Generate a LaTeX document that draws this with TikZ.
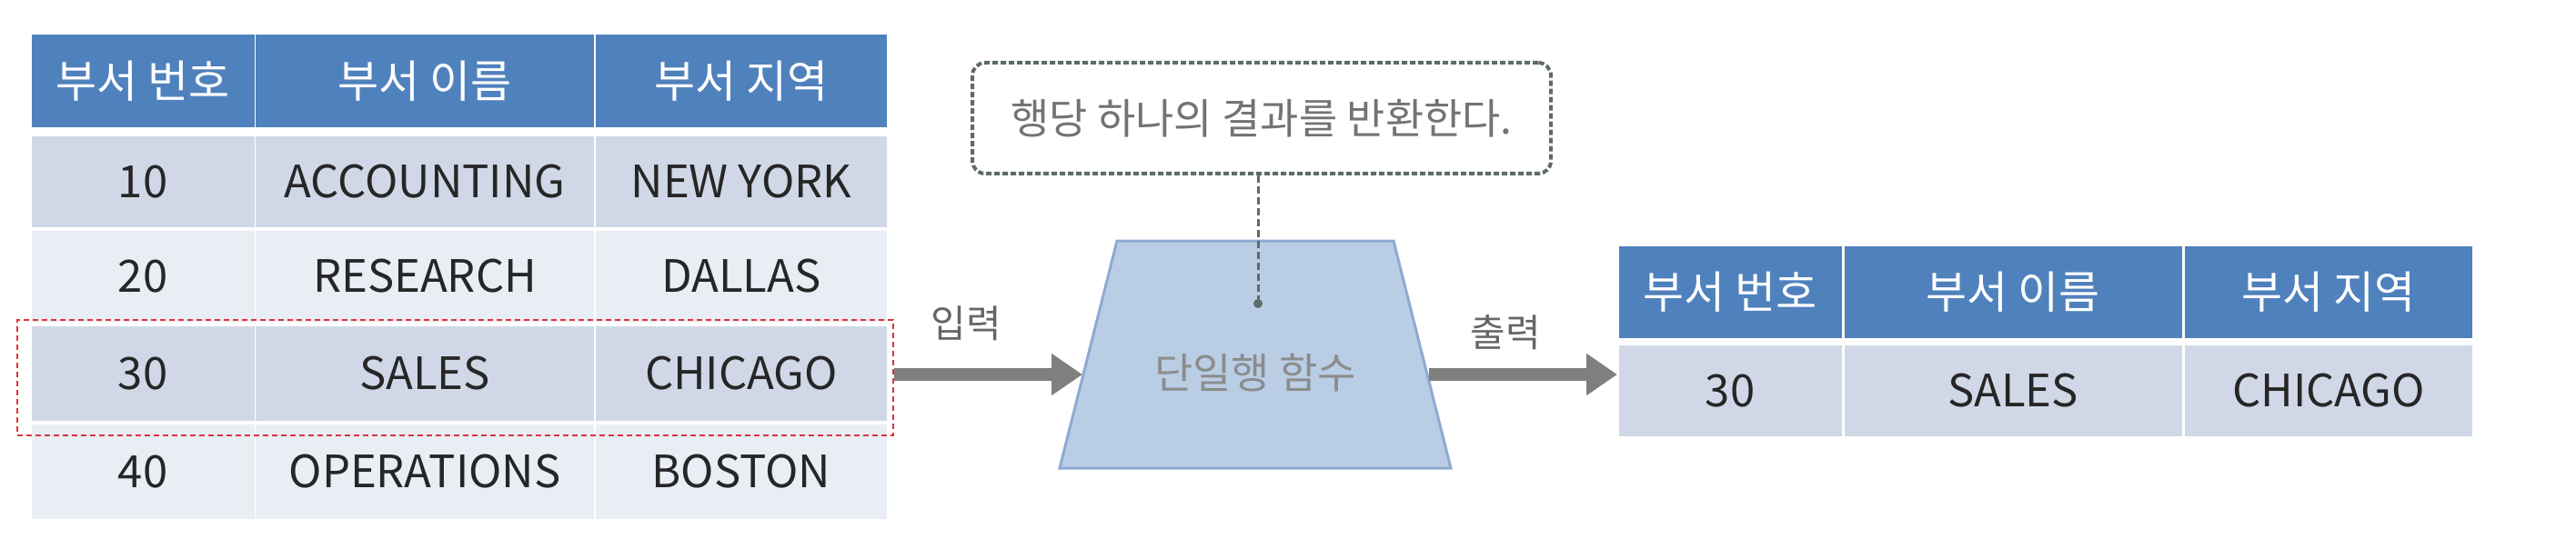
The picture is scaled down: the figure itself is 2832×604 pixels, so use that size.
\documentclass[tikz,border=0pt]{standalone}
\usepackage{fontspec}
\setmainfont{Noto Sans CJK KR}
\usetikzlibrary{arrows.meta}
\definecolor{hdr}{HTML}{4F81BD}
\definecolor{rowA}{HTML}{D0D8E8}
\definecolor{rowB}{HTML}{E9EDF4}
\definecolor{trap}{HTML}{B9CDE5}
\definecolor{trapedge}{HTML}{8EAAD3}
\definecolor{arr}{HTML}{7F7F7F}
\definecolor{callout}{HTML}{5E6B68}
\tikzset{
  cell/.style={inner sep=0pt, outer sep=0pt, font=\fontsize{49}{52}\selectfont},
  hcell/.style={cell, fill=hdr, text=white},
  acell/.style={cell, fill=rowA, text=black!85},
  bcell/.style={cell, fill=rowB, text=black!85},
  bigarrow/.style={draw=arr, line width=14pt, -{Triangle[length=34pt,width=44pt]}},
  lbl/.style={font=\fontsize{42}{46}\selectfont, text=black!60},
}
\newcommand{\tabrowx}[7]{% prefix style y1 y2 t1 t2 t3
  \node[#2, minimum width=245, minimum height=#4-#3] (#1a) at (157,{-(#3+#4)/2}) {#5};
  \node[#2, minimum width=372, minimum height=#4-#3] (#1b) at (467,{-(#3+#4)/2}) {#6};
  \node[#2, minimum width=320, minimum height=#4-#3] (#1c) at (815,{-(#3+#4)/2}) {#7};}
\begin{document}
\begin{tikzpicture}[x=1pt,y=1pt]
\useasboundingbox (0,0) rectangle (2832,-604);
\tabrowx{lh}{hcell}{38}{140}{부서 번호}{부서 이름}{부서 지역}
\tabrowx{lA}{acell}{150}{250}{10}{ACCOUNTING}{NEW YORK}
\tabrowx{lB}{bcell}{254}{354}{20}{RESEARCH}{DALLAS}
\tabrowx{lC}{acell}{359}{463}{30}{SALES}{CHICAGO}
\tabrowx{lD}{bcell}{467}{571}{40}{OPERATIONS}{BOSTON}
% highlight
\node[draw={rgb,255:red,225;green,50;blue,60}, dash pattern=on 6pt off 4pt, line width=2.5pt, minimum width=963, minimum height=127, inner sep=0] (hl) at (500.5,-415.5) {};
% function trapezoid
\coordinate (t1) at (1228,-265);
\coordinate (t2) at (1532,-265);
\coordinate (t3) at (1595,-515);
\coordinate (t4) at (1165,-515);
\draw[fill=trap, draw=trapedge, line width=3pt] (t1) -- (t2) -- (t3) -- (t4) -- cycle;
\node[font=\fontsize{46}{50}\selectfont, text=black!45] (fn) at (1380,-410) {단일행 함수};
% callout
\node[draw=callout, dash pattern=on 6pt off 3pt, line width=4pt, rounded corners=14pt, minimum width=636, minimum height=122, font=\fontsize{46}{50}\selectfont, text=black!55] (co) at (1387,-130) {행당 하나의 결과를 반환한다.};
\coordinate (dot) at (1383,-334);
\draw[callout, dash pattern=on 8pt off 4pt, line width=3pt] (co.south -| dot) -- (dot);
\fill[callout] (dot) circle (5pt);
% arrows
\coordinate (inE) at (1190,-412);
\coordinate (outS) at (1571,-412);
\coordinate (outE) at (1778,-412);
\draw[bigarrow] (hl.east |- inE) -- (inE);
\node[lbl] (inl) at (1062,-356) {입력};
\draw[bigarrow] (outS) -- (outE);
\node[lbl] (outl) at (1655,-366) {출력};
% right table
\node[hcell, minimum width=245, minimum height=101] (rha) at (1902,-321) {부서 번호};
\node[hcell, minimum width=371, minimum height=101] (rhb) at (2213,-321) {부서 이름};
\node[hcell, minimum width=316, minimum height=101] (rhc) at (2560,-321) {부서 지역};
\node[acell, minimum width=245, minimum height=100] (r1a) at (1902,-430) {30};
\node[acell, minimum width=371, minimum height=100] (r1b) at (2213,-430) {SALES};
\node[acell, minimum width=316, minimum height=100] (r1c) at (2560,-430) {CHICAGO};
\end{tikzpicture}
\end{document}
